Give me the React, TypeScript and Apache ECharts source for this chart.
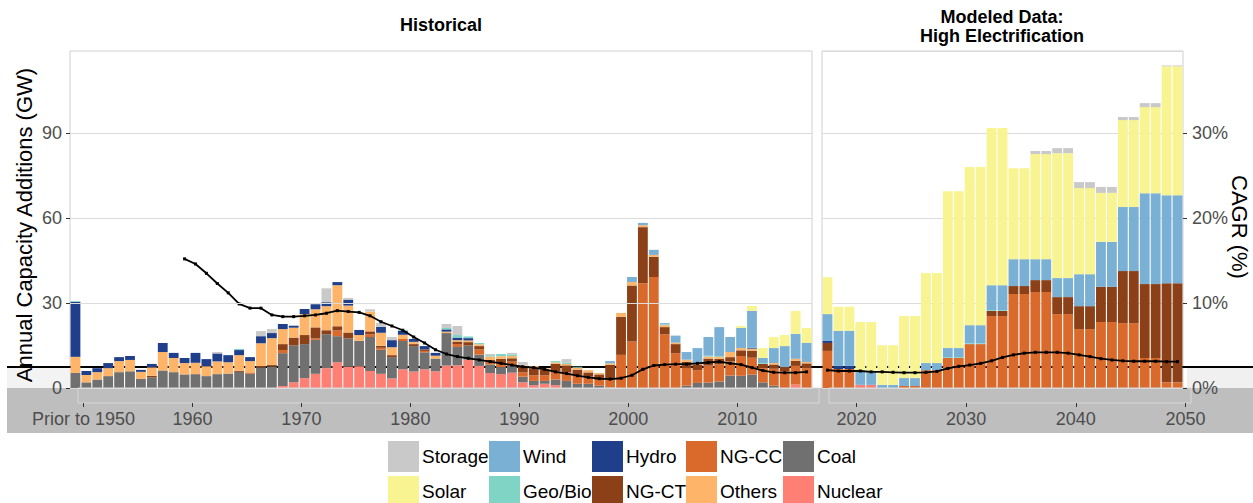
import React, { useEffect, useRef } from "react";
import * as echarts from "echarts";

const FONT = '"Liberation Sans", Arial, Helvetica, sans-serif';

const histYears = [
  "1950", "1951", "1952", "1953", "1954", "1955", "1956", "1957", "1958", "1959",
  "1960", "1961", "1962", "1963", "1964", "1965", "1966", "1967", "1968", "1969",
  "1970", "1971", "1972", "1973", "1974", "1975", "1976", "1977", "1978", "1979",
  "1980", "1981", "1982", "1983", "1984", "1985", "1986", "1987", "1988", "1989",
  "1990", "1991", "1992", "1993", "1994", "1995", "1996", "1997", "1998", "1999",
  "2000", "2001", "2002", "2003", "2004", "2005", "2006", "2007", "2008", "2009",
  "2010", "2011", "2012", "2013", "2014", "2015", "2016", "2017",
];
const modYears = [
  "2018", "2019", "2020", "2021", "2022", "2023", "2024", "2025", "2026", "2027",
  "2028", "2029", "2030", "2031", "2032", "2033", "2034", "2035", "2036", "2037",
  "2038", "2039", "2040", "2041", "2042", "2043", "2044", "2045", "2046", "2047",
  "2048", "2049", "2050",
];

const histTickYears = ["1950", "1960", "1970", "1980", "1990", "2000", "2010"];
const histTickLabels = ["Prior to 1950", "1960", "1970", "1980", "1990", "2000", "2010"];
const modTickYears = ["2020", "2030", "2040", "2050"];
const modTickLabels = ["2020", "2030", "2040", "2050"];
const gwTicks = [0, 30, 60, 90];
const cagrTicks = [0, 10, 20, 30];

// Historical annual additions (GW), 1950..2017
const histNuclear = [
  0, 0, 0, 0, 0, 0, 0, 0, 0, 0,
  0, 0, 0, 0, 0, 0, 0, 0, 0, 0.7,
  2, 3.5, 5, 7, 9.1, 7.5, 7.7, 6, 5, 3.4,
  6.6, 5.8, 6.6, 5.9, 7.9, 8, 10, 7.8, 5.3, 4.9,
  5.4, 2, 1, 1.5, 1, 0, 0, 0, 0, 0,
  0, 0, 0, 0, 0, 0, 0, 0, 0, 0,
  0, 0, 0, 0, 0, 0, 1.2, 0,
];
const histCoal = [
  5.3, 2, 3, 4.2, 5.6, 5.9, 3.2, 3.8, 6.2, 5.6,
  4.8, 4.9, 4.2, 4.9, 5.1, 5.7, 5.0, 7.3, 7.6, 11.6,
  13, 12, 12, 12, 9.2, 10, 9, 12, 8.5, 7.5,
  10, 9, 6, 4.5, 11.5, 6.5, 5, 4, 3, 2.5,
  2.5, 2, 1.5, 1, 2, 2.5, 1.5, 1.5, 0.8, 0.2,
  0, 0, 0, 0, 0, 0, 0.8, 1.8, 1.9, 2.3,
  4.4, 4.3, 4.7, 2, 0.8, 0, 0, 0,
];
const histNGCC = [
  0, 0, 0, 0, 0, 0, 0, 0, 0, 0,
  0, 0, 0, 0, 0, 0, 0.5, 0, 0, 1.1,
  0, 0, 0.5, 0, 2, 0, 0, 1, 0.7, 0,
  0.7, 0, 0.5, 0, 0, 1, 0, 1.8, 1.2, 1.4,
  1.4, 1.5, 2, 2, 3, 3, 3, 2.5, 2, 3,
  11.7, 16.4, 37, 39.2, 19, 12.3, 6.5, 4.5, 6, 6,
  5, 7, 6, 5, 6, 5.9, 6.6, 7,
];
const histNGCT = [
  0, 0, 0, 0, 0, 0, 0, 0.5, 0, 0,
  0, 0, 0, 0, 0, 0.4, 0, 0.5, 0.5, 2.1,
  2.8, 3.2, 3.9, 1.4, 1.5, 2.1, 0, 1, 0.7, 0.7,
  0, 0.7, 0.5, 0, 0, 0.9, 1.2, 1.2, 0.4, 1.5,
  1.2, 2, 2.5, 2, 2.5, 2.5, 2, 1.5, 2, 5,
  13.4, 19.8, 19.8, 7.1, 2.5, 3.2, 2, 2, 2.5, 2,
  1.5, 2, 2.5, 1.5, 1.5, 1.5, 1.8, 1.7,
];
const histOthers = [
  5.7, 2.6, 2.6, 2.8, 3.9, 4.0, 2.5, 3.0, 6.5, 5.0,
  4.0, 4.0, 3.5, 4.5, 4.0, 5.5, 4.0, 8.0, 9.5, 5.3,
  3.5, 7.4, 6.4, 8.5, 14.5, 9.5, 2, 7, 4.6, 2.8,
  1.5, 0.8, 0, 1, 0.5, 0.5, 0.6, 0.6, 1.2, 0.9,
  0.8, 0.5, 0.8, 0.5, 0.5, 0.5, 0.7, 0.8, 0.5, 0.5,
  1.4, 1.2, 0.7, 0.7, 0.7, 0.5, 0.7, 0.5, 0.7, 0.7,
  1.8, 0.8, 0.7, 0, 0.5, 0, 0.7, 0.5,
];
const histHydro = [
  19.4, 1.4, 1.4, 1.8, 1.4, 1.4, 0.7, 1.2, 3.2, 1.8,
  1.8, 3.5, 2.5, 2.8, 2.5, 1.8, 1.4, 2.5, 1.8, 1.8,
  0.7, 1.8, 1.8, 1.4, 1.1, 2.1, 1.8, 0, 2.1, 2.5,
  1.4, 1.0, 1.2, 1, 0.8, 0.9, 0.8, 0, 0, 0,
  0, 0, 0, 0, 0, 0, 0, 0, 0, 0,
  0, 0, 0, 0, 0, 0, 0, 0, 0, 0,
  0, 0, 0.3, 0, 0, 0, 0, 0,
];
const histGeoBio = [
  0.3, 0, 0, 0, 0, 0, 0, 0, 0, 0,
  0, 0, 0, 0, 0, 0.4, 0, 0, 0, 0,
  0, 0, 0.3, 0, 0, 0, 0, 0, 0, 0,
  0.3, 0, 0, 0, 0.5, 0.9, 0.6, 0.5, 0.5, 0.8,
  0.6, 0, 0, 0, 0.5, 0.5, 0.3, 0, 0, 0,
  0, 0, 0, 0, 0.3, 0, 0, 0, 0.3, 0.3,
  0, 0, 0, 0.3, 0, 0, 0, 0,
];
const histWind = [
  0, 0, 0, 0, 0, 0, 0, 0, 0, 0,
  0, 0, 0, 0, 0, 0, 0, 0, 0, 0,
  0, 0, 0, 0, 0, 0, 0, 0, 0, 0,
  0, 0, 0, 0, 0, 0, 0, 0, 0, 0,
  0, 0, 0, 0, 0, 0, 0, 0, 0, 0.8,
  0, 1.8, 0.8, 1.8, 0.4, 2.5, 2.7, 5.3, 6.6, 10.2,
  5.3, 7.1, 13, 1.8, 5.3, 7.4, 8.8, 6.7,
];
const histSolar = [
  0, 0, 0, 0, 0, 0, 0, 0, 0, 0,
  0, 0, 0, 0, 0, 0, 0, 0, 0, 0,
  0, 0, 0, 0, 0, 0, 0, 0, 0, 0,
  0, 0, 0, 0, 0, 0, 0, 0, 0, 0,
  0, 0, 0, 0, 0, 0, 0, 0, 0, 0,
  0, 0, 0, 0, 0, 0, 0, 0, 0, 0,
  0, 0.7, 1.8, 3.5, 3.9, 3.9, 8.1, 5.3,
];
const histStorage = [
  0, 0, 0, 0, 0, 0, 0, 0, 0, 0,
  0, 0, 0, 0.5, 0, 0, 0, 1.8, 1.4, 0,
  0, 0, 0, 4.9, 0, 0.6, 0, 0.8, 1.4, 1.1,
  0, 0, 0, 0, 1.4, 3.2, 0, 0, 0.4, 0,
  0.5, 1.2, 0, 0, 0, 1.2, 0, 0, 0, 0,
  0, 0, 0, 0, 0, 0, 0, 0, 0, 0,
  0, 0, 0, 0, 0, 0, 0, 0,
];

// Modeled annual additions (GW), 2018..2050
const modNuclear = [
  0, 0, 0, 1.1, 1.1, 0, 0, 0, 0, 0, 0, 0, 0, 0, 0, 0, 0,
  0, 0, 0, 0, 0, 0, 0, 0, 0, 0, 0, 0, 0, 0, 0, 0,
];
const modCoal = [
  0, 0, 0, 0, 0, 0, 0, 0, 0, 0, 0, 0, 0, 0, 0, 0, 0,
  0, 0, 0, 0, 0, 0, 0, 0, 0, 0, 0, 0, 0, 0, 0, 0,
];
const modNGCC = [
  13.1, 6.7, 6.7, 0, 0, 0, 0, 0.7, 0.7, 6.3, 6.3, 10.6, 10.6, 15.5, 15.5, 25.4, 25.4,
  33.2, 33.2, 33.9, 33.9, 26.1, 26.1, 20.8, 20.8, 23.3, 23.3, 22.9, 22.9, 10.6, 10.6, 2, 2,
];
const modNGCT = [
  2.8, 0, 0, 0, 0, 0, 0, 0, 0, 0, 0, 0, 0, 0, 0, 1.8, 1.8,
  2.8, 2.8, 4.2, 4.2, 6, 6, 8.1, 8.1, 12.4, 12.4, 18.4, 18.4, 26.1, 26.1, 35, 35,
];
const modOthers = [
  0, 0, 0, 0, 0, 0, 0, 0, 0, 0, 0, 0, 0, 0, 0, 0, 0,
  0, 0, 0, 0, 0, 0, 0, 0, 0, 0, 0, 0, 0, 0, 0, 0,
];
const modHydro = [
  0.7, 1.1, 1.1, 0, 0, 0, 0, 0, 0, 0, 0, 0, 0, 0, 0, 0, 0,
  0, 0, 0, 0, 0, 0, 0, 0, 0, 0, 0, 0, 0, 0, 0, 0,
];
const modGeoBio = [
  0, 0, 0, 0, 0, 0, 0, 0, 0, 0, 0, 0.3, 0.3, 0.3, 0.3, 0.3, 0.3,
  0, 0, 0, 0, 0, 0, 0, 0, 0, 0, 0, 0, 0, 0, 0, 0,
];
const modWind = [
  9.5, 12.4, 12.4, 4.9, 4.9, 1.1, 1.1, 2.8, 2.8, 2.5, 2.5, 3.2, 3.2, 6.4, 6.4, 8.8, 8.8,
  9.5, 9.5, 7.4, 7.4, 6.7, 6.7, 11.3, 11.3, 15.9, 15.9, 22.6, 22.6, 32.1, 32.1, 31.1, 31.1,
];
const modSolar = [
  13, 8.5, 8.5, 17.3, 17.3, 14, 14, 21.9, 21.9, 31.8, 31.8, 55.4, 55.4, 55.8, 55.8, 55.5, 55.5,
  32.1, 32.1, 37.1, 37.1, 44.1, 44.1, 30.4, 30.4, 17.3, 17.3, 30.7, 30.7, 30.4, 30.4, 45.5, 45.5,
];
const modStorage = [
  0, 0, 0, 0, 0, 0, 0, 0, 0, 0, 0, 0, 0, 0, 0, 0, 0,
  0, 0, 1.1, 1.1, 1.8, 1.8, 2.1, 2.1, 2.1, 2.1, 1.1, 1.1, 1.4, 1.4, 0.3, 0.3,
];

// CAGR (%)
const histCagr = [
  null, null, null, null, null, null, null, null, null, null,
  15.2, 14.6, 13.5, 12.3, 11.2, 9.9, 9.4, 9.4, 8.6, 8.4,
  8.4, 8.5, 8.6, 8.8, 9.1, 9.0, 8.9, 8.5, 7.8, 7.3,
  6.8, 6.0, 5.3, 4.5, 4.0, 3.7, 3.5, 3.3, 3.1, 2.9,
  2.7, 2.5, 2.4, 2.2, 1.9, 1.7, 1.45, 1.25, 1.1, 1.05,
  1.15, 1.5, 2.2, 2.65, 2.75, 2.8, 2.8, 2.9, 3.0, 3.1,
  2.9, 2.75, 2.4, 2.05, 1.85, 1.8, 1.8, 1.9,
];
const modCagr = [
  2.1, 2.0, 2.0, 2.0, 1.9, 1.9, 1.85, 1.8, 1.8, 1.85, 1.95, 2.3, 2.55, 2.7, 2.9, 3.2, 3.6,
  3.9, 4.1, 4.2, 4.2, 4.2, 4.1, 3.9, 3.7, 3.45, 3.3, 3.2, 3.15, 3.15, 3.15, 3.1, 3.1,
];

const techNames = ["Nuclear", "Coal", "NG-CC", "NG-CT", "Others", "Hydro", "Geo/Bio", "Wind", "Solar", "Storage"];
const histSeriesData = [histNuclear, histCoal, histNGCC, histNGCT, histOthers, histHydro, histGeoBio, histWind, histSolar, histStorage];
const modSeriesData = [modNuclear, modCoal, modNGCC, modNGCT, modOthers, modHydro, modGeoBio, modWind, modSolar, modStorage];
const techColors = ["#fe7f74", "#707070", "#d96a2b", "#8c4018", "#feb469", "#203f8a", "#80d4c6", "#7bb0d5", "#f7f491", "#c9c9c9"];

const legendRow1 = ["Storage", "Wind", "Hydro", "NG-CC", "Coal"];
const legendRow2 = ["Solar", "Geo/Bio", "NG-CT", "Others", "Nuclear"];

export default function App() {
  const ref = useRef<HTMLDivElement>(null);

  useEffect(() => {
    document.body.style.margin = "0";
    const chart = echarts.init(ref.current as HTMLDivElement, undefined, { renderer: "svg" });

    const barSeries: any[] = [];
    techNames.forEach((name, i) => {
      barSeries.push({
        name,
        type: "bar",
        xAxisIndex: 0,
        yAxisIndex: 0,
        stack: "hist",
        barCategoryGap: "10%",
        itemStyle: { color: techColors[i] },
        data: histSeriesData[i],
        z: 2,
      });
    });
    techNames.forEach((name, i) => {
      barSeries.push({
        name,
        type: "bar",
        xAxisIndex: 1,
        yAxisIndex: 2,
        stack: "mod",
        barCategoryGap: "10%",
        itemStyle: { color: techColors[i] },
        data: modSeriesData[i],
        z: 2,
      });
    });

    const lineCommon = {
      type: "line",
      symbol: "rect",
      symbolSize: 3,
      showSymbol: true,
      connectNulls: false,
      itemStyle: { color: "#000" },
      lineStyle: { color: "#000", width: 1.8 },
      z: 6,
    };

    const histTickFn = (_i: number, v: string) => histTickYears.indexOf(v) >= 0;
    const modTickFn = (_i: number, v: string) => modTickYears.indexOf(v) >= 0;

    const legendCols = [388, 489, 592, 686, 783];
    const legends: any[] = [];
    [legendRow1, legendRow2].forEach((row, r) => {
      row.forEach((name, c) => {
        legends.push({
          data: [name],
          left: legendCols[c],
          top: r === 0 ? 441 : 476,
          orient: "horizontal",
          padding: 0,
          itemGap: 0,
          itemWidth: 31,
          itemHeight: 31,
          icon: "rect",
          selectedMode: false,
          textStyle: { fontSize: 19, color: "#000", fontFamily: FONT, padding: [0, 0, 0, -2] },
        });
      });
    });

    const splitLine = { show: true, lineStyle: { color: "#dcdcdc", width: 1 } };

    const option: any = {
      animation: false,
      textStyle: { fontFamily: FONT },
      legend: legends,
      grid: [
        { left: 70, top: 51, width: 742, height: 337, show: true, borderColor: "#cfcfcf", borderWidth: 1, backgroundColor: "transparent" },
        { left: 822, top: 51, width: 361, height: 337, show: true, borderColor: "#cfcfcf", borderWidth: 1, backgroundColor: "transparent" },
        { left: 78, top: 388, width: 741, height: 15, show: true, borderColor: "#d8d8d8", borderWidth: 1, backgroundColor: "transparent", z: 10 },
        { left: 829, top: 388, width: 362, height: 15, show: true, borderColor: "#d8d8d8", borderWidth: 1, backgroundColor: "transparent", z: 10 },
      ],
      xAxis: [
        { gridIndex: 0, type: "category", data: histYears, show: false },
        { gridIndex: 1, type: "category", data: modYears, show: false },
        {
          gridIndex: 2,
          type: "category",
          data: histYears,
          z: 10,
          axisLine: { show: false },
          splitLine: { show: false },
          axisTick: { show: true, alignWithLabel: true, interval: histTickFn, length: 4, lineStyle: { color: "#333" } },
          axisLabel: {
            interval: histTickFn,
            margin: 7,
            fontSize: 18,
            color: "#4d4d4d",
            fontFamily: FONT,
            formatter: (v: string) => {
              const k = histTickYears.indexOf(v);
              return k >= 0 ? histTickLabels[k] : "";
            },
          },
        },
        {
          gridIndex: 3,
          type: "category",
          data: modYears,
          z: 10,
          axisLine: { show: false },
          splitLine: { show: false },
          axisTick: { show: true, alignWithLabel: true, interval: modTickFn, length: 4, lineStyle: { color: "#333" } },
          axisLabel: {
            interval: modTickFn,
            margin: 7,
            fontSize: 18,
            color: "#4d4d4d",
            fontFamily: FONT,
            formatter: (v: string) => {
              const k = modTickYears.indexOf(v);
              return k >= 0 ? modTickLabels[k] : "";
            },
          },
        },
      ],
      yAxis: [
        {
          gridIndex: 0,
          type: "value",
          min: 0,
          max: 119,
          interval: 30,
          z: 10,
          axisLine: { show: false },
          axisTick: { show: true, length: 4, lineStyle: { color: "#333" }, customValues: gwTicks },
          axisLabel: {
            margin: 8,
            fontSize: 18,
            color: "#4d4d4d",
            fontFamily: FONT,
            customValues: gwTicks,
            formatter: (v: number) => (v % 30 === 0 ? String(v) : ""),
          },
          splitLine,
        },
        { gridIndex: 0, type: "value", position: "right", min: 0, max: 39.667, show: false },
        {
          gridIndex: 1,
          type: "value",
          min: 0,
          max: 119,
          interval: 30,
          axisLine: { show: false },
          axisTick: { show: false },
          axisLabel: { show: false },
          splitLine,
        },
        {
          gridIndex: 1,
          type: "value",
          position: "right",
          min: 0,
          max: 39.667,
          interval: 10,
          z: 10,
          axisLine: { show: false },
          axisTick: { show: true, length: 4, lineStyle: { color: "#333" }, customValues: cagrTicks },
          axisLabel: {
            margin: 9,
            fontSize: 18,
            color: "#4d4d4d",
            fontFamily: FONT,
            customValues: cagrTicks,
            formatter: (v: number) => (Math.abs(v % 10) < 1e-6 ? v + "%" : ""),
          },
          splitLine: { show: false },
        },
        { gridIndex: 2, type: "value", show: false },
        { gridIndex: 3, type: "value", show: false },
      ],
      graphic: {
        elements: [
          { type: "rect", shape: { x: 7, y: 388, width: 1246, height: 45 }, style: { fill: "#bebebe" }, z: 0 },
          { type: "rect", shape: { x: 7, y: 367, width: 63, height: 21 }, style: { fill: "#f3f3f3" }, z: 0 },
          { type: "rect", shape: { x: 1187, y: 367, width: 66, height: 21 }, style: { fill: "#f0f0f0" }, z: 0 },
          { type: "line", shape: { x1: 7, y1: 367, x2: 1253, y2: 367 }, style: { stroke: "#000", lineWidth: 2 }, z: 1 },
          {
            type: "text",
            x: 441,
            y: 25,
            z: 10,
            style: { text: "Historical", fontSize: 18, fontWeight: "bold", fontFamily: FONT, fill: "#000", textAlign: "center", textVerticalAlign: "middle" },
          },
          {
            type: "text",
            x: 1002,
            y: 17,
            z: 10,
            style: { text: "Modeled Data:", fontSize: 18, fontWeight: "bold", fontFamily: FONT, fill: "#000", textAlign: "center", textVerticalAlign: "middle" },
          },
          {
            type: "text",
            x: 1002,
            y: 36,
            z: 10,
            style: { text: "High Electrification", fontSize: 18, fontWeight: "bold", fontFamily: FONT, fill: "#000", textAlign: "center", textVerticalAlign: "middle" },
          },
          {
            type: "text",
            x: 24,
            y: 225,
            rotation: Math.PI / 2,
            z: 10,
            style: { text: "Annual Capacity Additions (GW)", fontSize: 22, fontFamily: FONT, fill: "#000", textAlign: "center", textVerticalAlign: "middle" },
          },
          {
            type: "text",
            x: 1239,
            y: 227,
            rotation: -Math.PI / 2,
            z: 10,
            style: { text: "CAGR (%)", fontSize: 22, fontFamily: FONT, fill: "#000", textAlign: "center", textVerticalAlign: "middle" },
          },
        ],
      },
      series: [
        ...barSeries,
        { ...lineCommon, name: "CAGR historical", xAxisIndex: 0, yAxisIndex: 1, data: histCagr },
        { ...lineCommon, name: "CAGR modeled", xAxisIndex: 1, yAxisIndex: 3, data: modCagr },
      ],
    };

    chart.setOption(option);
    return () => chart.dispose();
  }, []);

  return <div ref={ref} style={{ width: 1253, height: 503 }} />;
}
